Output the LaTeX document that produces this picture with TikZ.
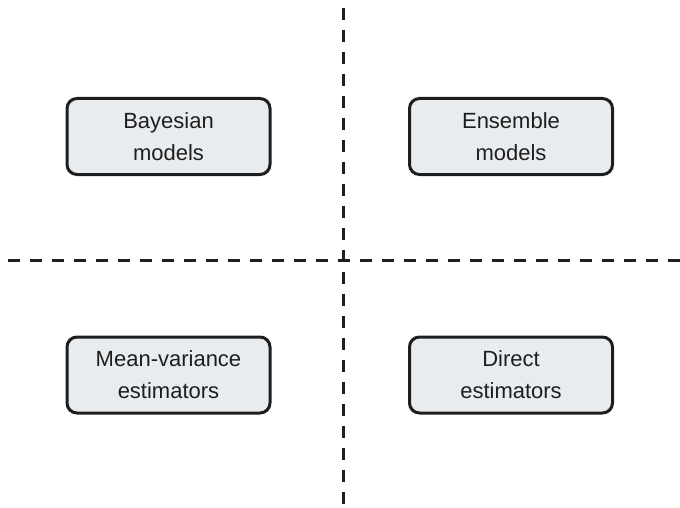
\documentclass[tikz,border=0pt]{standalone}
\usepackage{fontspec}
\setmainfont{Liberation Sans}
\begin{document}
\begin{tikzpicture}[x=1pt,y=-1pt,
  card/.style={draw=ink, fill=cardfill, line width=3pt, rounded corners=10pt,
    minimum width=203pt, minimum height=76pt, align=center,
    font=\fontsize{22}{32}\selectfont, text=ink},
  divider/.style={draw=ink, line width=3pt, dash pattern=on 12pt off 10pt}]
\definecolor{ink}{HTML}{1E1E1E}
\definecolor{cardfill}{HTML}{E9ECEF}
\useasboundingbox (0,0) rectangle (680,508);
% quadrant dividers
\coordinate (vtop) at (343,8);
\coordinate (vbot) at (343,508);
\coordinate (hleft) at (8,260);
\coordinate (hright) at (680,260);
\draw[divider] (vtop) -- (vbot);
\draw[divider] (hleft) -- (hright);
% the four method families
\node[card] (bayes) at (168.5,136.5) {Bayesian\\models};
\node[card] (ens) at (511,136.5) {Ensemble\\models};
\node[card] (mv) at (168.5,375) {Mean-variance\\estimators};
\node[card] (direct) at (511,375) {Direct\\estimators};
\end{tikzpicture}
\end{document}
